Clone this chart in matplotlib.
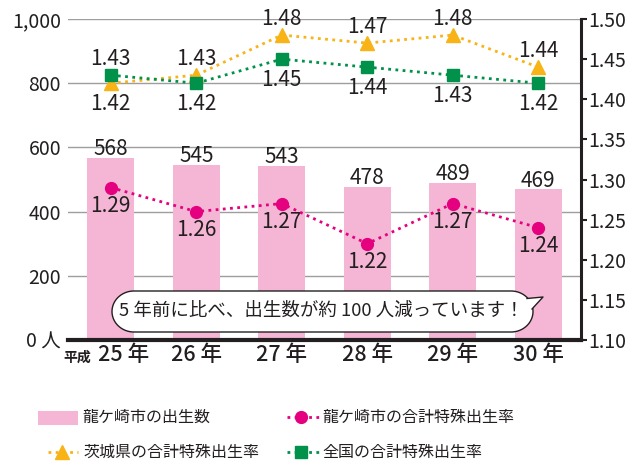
import matplotlib
matplotlib.use("Agg")
import numpy as np
import matplotlib.pyplot as plt
import matplotlib.transforms as mtransforms
from matplotlib.patches import Polygon, Rectangle
from matplotlib.lines import Line2D

plt.rcParams['font.family'] = ['Noto Sans CJK JP', 'DejaVu Sans']

years = ["25 年", "26 年", "27 年", "28 年", "29 年", "30 年"]
births = [568, 545, 543, 478, 489, 469]
tfr_city = [1.29, 1.26, 1.27, 1.22, 1.27, 1.24]
tfr_pref = [1.42, 1.43, 1.48, 1.47, 1.48, 1.44]
tfr_nation = [1.43, 1.42, 1.45, 1.44, 1.43, 1.42]
left_ticks = [0, 200, 400, 600, 800, 1000]
left_labels = ["0 人", "200", "400", "600", "800", "1,000"]
right_ticks = [1.10, 1.15, 1.20, 1.25, 1.30, 1.35, 1.40, 1.45, 1.50]

pref_pos = ["below", "above", "above", "above", "above", "above"]
nation_pos = ["above", "below", "below", "below", "below", "below"]

PINK = "#F4B6D4"
MAGENTA = "#E4007F"
ORANGE = "#F8B417"
GREEN = "#00914A"
DARK = "#231F20"
NUM = 15

W, H = 625, 465
fig = plt.figure(figsize=(6.25, 4.65), dpi=100)
ax = fig.add_axes([68 / W, 1 - 340 / H, 513 / W, 321 / H])
ax2 = ax.twinx()

x = list(range(len(years)))
ax.bar(x, births, width=0.55, color=PINK, zorder=2)
for xi, v in zip(x, births):
    ax.annotate(str(v), (xi, v), xytext=(0, -1.5), textcoords="offset points",
                ha="center", va="bottom", fontsize=NUM, color=DARK)

ax.set_xlim(-0.5, 5.5)
ax.set_ylim(0, 1000)
ax.set_yticks(left_ticks)
ax.set_yticklabels(left_labels)
ax.grid(axis="y", color="#9E9E9E", linewidth=1.0, zorder=0)
ax.set_axisbelow(True)
for s in ["left", "top", "right"]:
    ax.spines[s].set_visible(False)
ax.spines["bottom"].set_linewidth(3)
ax.spines["bottom"].set_color(DARK)
ax.spines["bottom"].set_zorder(5)
ax.tick_params(axis="y", length=0, labelsize=14, labelcolor=DARK, pad=5)
ax.set_xticks(x)
ax.set_xticklabels(years)
ax.tick_params(axis="x", length=0, labelsize=15.5, labelcolor=DARK, pad=3)
for lbl in ax.get_xticklabels():
    lbl.set_fontweight("medium")
first = ax.get_xticklabels()[0]
first.set_transform(first.get_transform() +
                    mtransforms.ScaledTranslation(0.13, 0, fig.dpi_scale_trans))

ax2.set_ylim(1.10, 1.50)
ax2.set_yticks(right_ticks)
ax2.set_yticklabels([f"{t:.2f}" for t in right_ticks])
for s in ["left", "top", "bottom"]:
    ax2.spines[s].set_visible(False)
ax2.spines["right"].set_linewidth(2.2)
ax2.spines["right"].set_color(DARK)
ax2.tick_params(axis="y", length=4, width=1.5, color=DARK, labelsize=14,
                labelcolor=DARK, pad=1)

ls = (0, (1, 1.6))
ax2.plot(x, tfr_pref, linestyle=ls, color=ORANGE, linewidth=2, marker="^",
         markersize=10.5, zorder=4)
ax2.plot(x, tfr_nation, linestyle=ls, color=GREEN, linewidth=2, marker="s",
         markersize=8.5, zorder=4)
ax2.plot(x, tfr_city, linestyle=ls, color=MAGENTA, linewidth=2, marker="o",
         markersize=8.5, zorder=4)

def lab(vals, pos, up=3.5, down=-7):
    for xi, v, p in zip(x, vals, pos):
        if p == "above":
            ax2.annotate(f"{v:.2f}", (xi, v), xytext=(0, up), textcoords="offset points",
                         ha="center", va="bottom", fontsize=NUM, color=DARK)
        else:
            ax2.annotate(f"{v:.2f}", (xi, v), xytext=(0, down), textcoords="offset points",
                         ha="center", va="top", fontsize=NUM, color=DARK)

lab(tfr_pref, pref_pos)
lab(tfr_nation, nation_pos)
lab(tfr_city, ["below"] * 6, down=-5.5)

# "平成" prefix
fig.text(63 / W, 1 - 358 / H, "平成", fontsize=10, color=DARK, ha="left",
         va="center", fontweight="bold")

# callout bubble drawn in pixel (display) coordinates
ident = mtransforms.IdentityTransform()

def P(px, py):
    return (px, H - py)

cy, ry, rx = 311.5, 20.5, 22
lc, rc = 134, 511
t = np.linspace(-np.pi / 2, np.pi / 2, 60)
right_arc = [P(rc + rx * np.cos(a), cy + ry * np.sin(a)) for a in t]
left_arc = [P(lc - rx * np.cos(a), cy - ry * np.sin(a)) for a in t]
outline = right_arc + left_arc
bubble = Polygon(outline, closed=True, transform=ident, fc="white", ec=DARK,
                 lw=1.0, zorder=10)
ax2.add_patch(bubble)
p_up, p_tip, p_lo = P(527, 298.5), P(543, 297), P(532, 309)
tail = Polygon([P(522, 301), p_up, p_tip, p_lo, P(525, 309)], closed=True,
               transform=ident, fc="white", ec="none", zorder=11)
ax2.add_patch(tail)
ax2.add_line(Line2D([p_up[0], p_tip[0], p_lo[0]], [p_up[1], p_tip[1], p_lo[1]],
                    transform=ident, color=DARK, lw=1.0, zorder=12))
fig.text(321 / W, 1 - 311 / H, "5 年前に比べ、出生数が約 100 人減っています！",
         ha="center", va="center", fontsize=13.3, color=DARK, zorder=13)

# legend (manual, figure pixel coordinates)
def fx(px):
    return px / W

def fy(py):
    return 1 - py / H

LF = 11.5
fig.patches.append(Rectangle((fx(38), fy(425)), 40 / W, 14 / H, transform=fig.transFigure,
                             fc=PINK, ec="none"))
fig.text(fx(82), fy(417), "龍ケ崎市の出生数", fontsize=LF, color=DARK, va="center")

fig.lines.append(Line2D([fx(48), fx(78)], [fy(452), fy(452)], transform=fig.transFigure,
                        linestyle=ls, color=ORANGE, lw=2))
fig.lines.append(Line2D([fx(62)], [fy(452)], transform=fig.transFigure, linestyle="none",
                        marker="^", markersize=10.5, color=ORANGE))
fig.text(fx(83), fy(452), "茨城県の合計特殊出生率", fontsize=LF, color=DARK, va="center")

fig.lines.append(Line2D([fx(287), fx(320)], [fy(417), fy(417)], transform=fig.transFigure,
                        linestyle=ls, color=MAGENTA, lw=2))
fig.lines.append(Line2D([fx(301)], [fy(417)], transform=fig.transFigure, linestyle="none",
                        marker="o", markersize=8.5, color=MAGENTA))
fig.text(fx(322), fy(417), "龍ケ崎市の合計特殊出生率", fontsize=LF, color=DARK, va="center")

fig.lines.append(Line2D([fx(287), fx(320)], [fy(452), fy(452)], transform=fig.transFigure,
                        linestyle=ls, color=GREEN, lw=2))
fig.lines.append(Line2D([fx(301)], [fy(452)], transform=fig.transFigure, linestyle="none",
                        marker="s", markersize=8.5, color=GREEN))
fig.text(fx(322), fy(452), "全国の合計特殊出生率", fontsize=LF, color=DARK, va="center")

fig.savefig("out.png", dpi=100)
